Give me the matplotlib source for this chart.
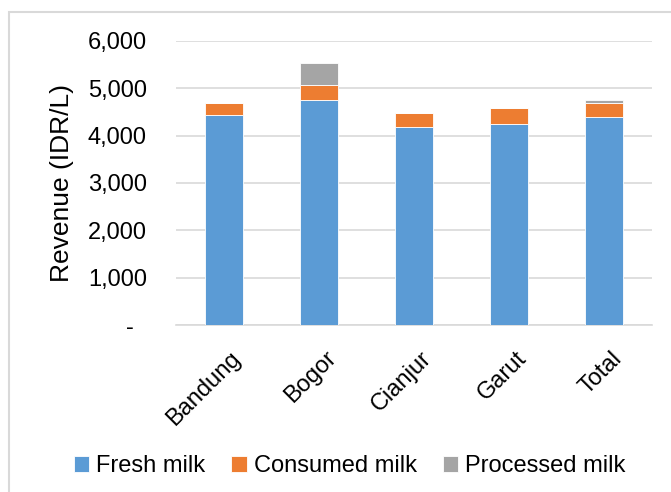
import numpy as np
import matplotlib.pyplot as plt
import matplotlib.transforms as mtransforms
from matplotlib.patches import Rectangle

plt.rcParams["font.family"] = ["Liberation Sans", "DejaVu Sans"]

# --- data ---
regions = ["Bandung", "Bogor", "Cianjur", "Garut", "Total"]
fresh = [4430, 4757, 4180, 4240, 4390]
consumed = [270, 323, 300, 340, 296]
processed = [0, 465, 0, 0, 70]
yticks = [0, 1000, 2000, 3000, 4000, 5000, 6000]
ytick_labels = ["-  ", "1,000", "2,000", "3,000", "4,000", "5,000", "6,000"]

c_fresh = "#5b9bd5"
c_cons = "#ed7d31"
c_proc = "#a5a5a5"

fig = plt.figure(figsize=(6.71, 4.92), dpi=100)
W, H = 671, 492
ax = fig.add_axes([176 / W, 1 - 325 / H, (652 - 176) / W, (325 - 41) / H])

x = np.arange(len(regions))
fresh = np.array(fresh)
consumed = np.array(consumed)
processed = np.array(processed)

kw = dict(width=0.4, edgecolor="white", linewidth=0.6, zorder=3)
ax.bar(x, fresh, color=c_fresh, label="Fresh milk", **kw)
ax.bar(x, consumed, bottom=fresh, color=c_cons, label="Consumed milk", **kw)
ax.bar(x, processed, bottom=fresh + consumed, color=c_proc,
       label="Processed milk", **kw)

ax.set_xlim(-0.5, len(regions) - 0.5)
ax.set_ylim(0, 6000)
ax.set_yticks(yticks)
ax.set_yticklabels(ytick_labels, fontsize=17)
ax.set_xticks(x)
ax.set_xticklabels(regions, fontsize=17, rotation=45, ha="right",
                   rotation_mode="anchor")
ax.tick_params(length=0)
ax.tick_params(axis="x", pad=16)
ax.tick_params(axis="y", pad=21)

# nudge rotated labels a little to the right, like the original
shift = mtransforms.ScaledTranslation(6 / 100, 0, fig.dpi_scale_trans)
for lbl in ax.get_xticklabels():
    lbl.set_transform(lbl.get_transform() + shift)

ax.grid(axis="y", color="#d9d9d9", linewidth=1.2, zorder=0)
for s in ["top", "right", "left"]:
    ax.spines[s].set_visible(False)
ax.spines["bottom"].set_color("#d9d9d9")
ax.spines["bottom"].set_linewidth(1.2)

ax.set_ylabel("Revenue (IDR/L)", fontsize=19, labelpad=10)

fig.legend(loc="center", bbox_to_anchor=(0.521, 1 - 466 / H), ncol=3,
           frameon=False, fontsize=17, handlelength=0.65, handleheight=0.65,
           handletextpad=0.3, columnspacing=1.1)

# light outer chart border (runs off the right and bottom edges)
fig.patches.append(Rectangle((9 / W, -10 / H), 700 / W, (492 - 12 + 10) / H,
                             transform=fig.transFigure, fill=False,
                             edgecolor="#d9d9d9", linewidth=1.5))

fig.savefig("out.png", dpi=100)
